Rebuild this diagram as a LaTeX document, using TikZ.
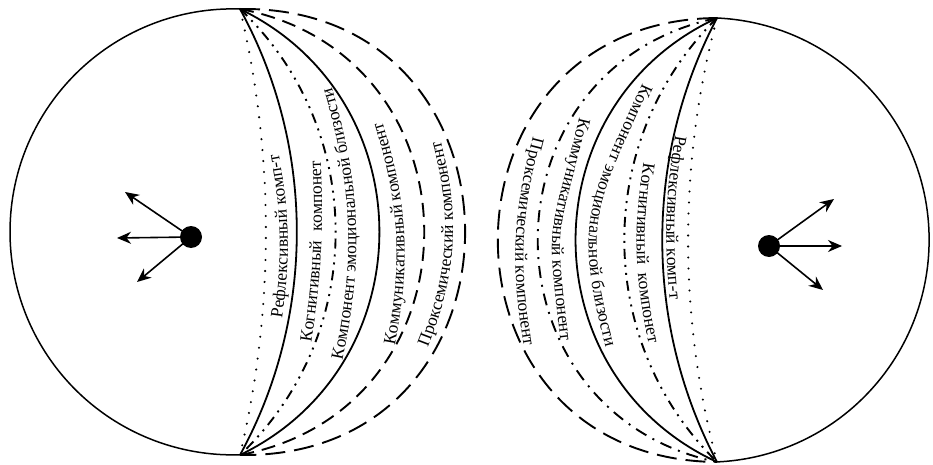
\documentclass[tikz,border=0pt]{standalone}
\usepackage{fontspec}
\setmainfont{Liberation Serif}
\usetikzlibrary{arrows.meta,positioning,decorations.text}
\newcommand{\lblfont}{\fontsize{17.5}{21}\selectfont}
\tikzstyle{ring}=[line width=1.5pt]
\tikzstyle{solidarc}=[line width=1.8pt]
\tikzstyle{dotarc}=[line width=2.3pt, line cap=round, dash pattern=on 0pt off 11pt]
\tikzstyle{ddotarc}=[line width=1.9pt, dash pattern=on 10pt off 6pt on 2pt off 6pt on 2pt off 6pt]
\tikzstyle{dotdasharc}=[line width=1.9pt, dash pattern=on 12pt off 7pt on 2pt off 7pt]
\tikzstyle{shortdash}=[line width=1.9pt, dash pattern=on 14pt off 8pt]
\tikzstyle{longdash}=[line width=1.9pt, dash pattern=on 20pt off 9pt]
\tikzstyle{core}=[circle, fill=black, minimum size=22pt, inner sep=0pt]
\tikzstyle{vecarrow}=[-{Stealth[length=14pt,width=12pt]}, line width=1.6pt]
\tikzstyle{arclabel}=[decorate, decoration={text along path, text align=center}]

\begin{document}
\begin{tikzpicture}[x=1pt, y=1pt]
    \useasboundingbox (0,0) rectangle (933,464);

    % Левый круг
    \coordinate (lt) at (240,455);
    \coordinate (lb) at (240,9);
    \draw[ring] (lt) arc[start angle=88.2, end angle=271.8, radius=223pt];

    \draw[dotarc]     (lt) to[bend left=13.3, looseness=0.863] (lb);
    \draw[solidarc]   (lt) to[bend left=28.7, looseness=0.907] (lb);
    \draw[ddotarc]    (lt) to[bend left=46.6, looseness=1.009] (lb);
    \draw[solidarc]   (lt) to[bend left=64.2, looseness=1.187] (lb);
    \draw[shortdash]  (lt) to[bend left=79.4, looseness=1.437] (lb);
    \draw[longdash]   (lt) to[bend left=90.8, looseness=1.726] (lb);

    % Подписи (левый)
    \coordinate (lrefl1) at (280,131);  \coordinate (lrefl2) at (276,324);
    \coordinate (lkogn1) at (309,106);  \coordinate (lkogn2) at (320,319);
    \coordinate (lemo1)  at (339,88);   \coordinate (lemo2)  at (327,392);
    \coordinate (lkomm1) at (392,104);  \coordinate (lkomm2) at (378,356);
    \coordinate (lprox1) at (421,100);  \coordinate (lprox2) at (436,340);
    \path[arclabel, decoration={text={|\lblfont|Рефлексивный комп-т}}]
          (lrefl1) to[bend right=10] (lrefl2);
    \path[arclabel, decoration={text={|\lblfont|Когнитивный {\ }компонет}}]
          (lkogn1) to[bend right=6] (lkogn2);
    \path[arclabel, decoration={text={|\lblfont|Компонент эмоциональной близости}}]
          (lemo1) to[bend right=15] (lemo2);
    \path[arclabel, decoration={text={|\lblfont|Коммуникативный компонент}}]
          (lkomm1) to[bend right=15] (lkomm2);
    \path[arclabel, decoration={text={|\lblfont|Проксемический компонент}}]
          (lprox1) to[bend right=20] (lprox2);

    % Центр и стрелки (левый)
    \node[core] (ldot) at (191,227) {};
    \coordinate (la1) at (125,272);
    \coordinate (la2) at (117,226);
    \coordinate (la3) at (137,182);
    \draw[vecarrow] (ldot.center) -- (la1);
    \draw[vecarrow] (ldot.center) -- (la2);
    \draw[vecarrow] (ldot.center) -- (la3);

    % Правый круг
    \coordinate (rt) at (717,446);
    \coordinate (rb) at (717,2);
    \draw[ring] (rt) arc[start angle=87.4, end angle=-87.4, radius=222.2pt];

    \draw[dotarc]     (rt) to[bend right=14.9, looseness=0.866] (rb);
    \draw[solidarc]   (rt) to[bend right=27.8, looseness=0.904] (rb);
    \draw[ddotarc]    (rt) to[bend right=45.5, looseness=1.001] (rb);
    \draw[solidarc]   (rt) to[bend right=65.2, looseness=1.200] (rb);
    \draw[dotdasharc] (rt) to[bend right=78.1, looseness=1.411] (rb);
    \draw[longdash]   (rt) to[bend right=89.5, looseness=1.688] (rb);

    % Подписи (правый)
    \coordinate (rrefl1) at (679,349);  \coordinate (rrefl2) at (672,144);
    \coordinate (rkogn1) at (646,316);  \coordinate (rkogn2) at (652,106);
    \coordinate (remo1)  at (648,393);  \coordinate (remo2)  at (609,104);
    \coordinate (rkomm1) at (582,358);  \coordinate (rkomm2) at (562,112);
    \coordinate (rprox1) at (536,338);  \coordinate (rprox2) at (526,107);
    \path[arclabel, decoration={text={|\lblfont|Рефлексивный комп-т}}]
          (rrefl1) to[bend right=8.5] (rrefl2);
    \path[arclabel, decoration={text={|\lblfont|Когнитивный {\ }компонет}}]
          (rkogn1) to[bend right=11.4] (rkogn2);
    \path[arclabel, decoration={text={|\lblfont|Компонент эмоциональной близости}}]
          (remo1) to[out=-114, in=105, looseness=1.3] (remo2);
    \path[arclabel, decoration={text={|\lblfont|Коммуникативный компонент}}]
          (rkomm1) to[out=-103, in=97, looseness=1.5] (rkomm2);
    \path[arclabel, decoration={text={|\lblfont|Проксемический компонент}}]
          (rprox1) to[bend right=13] (rprox2);

    % Центр и стрелки (правый)
    \node[core] (rdot) at (769,218) {};
    \coordinate (ra1) at (834,265);
    \coordinate (ra2) at (842,218);
    \coordinate (ra3) at (823,174);
    \draw[vecarrow] (rdot.center) -- (ra1);
    \draw[vecarrow] (rdot.center) -- (ra2);
    \draw[vecarrow] (rdot.center) -- (ra3);
\end{tikzpicture}
\end{document}
